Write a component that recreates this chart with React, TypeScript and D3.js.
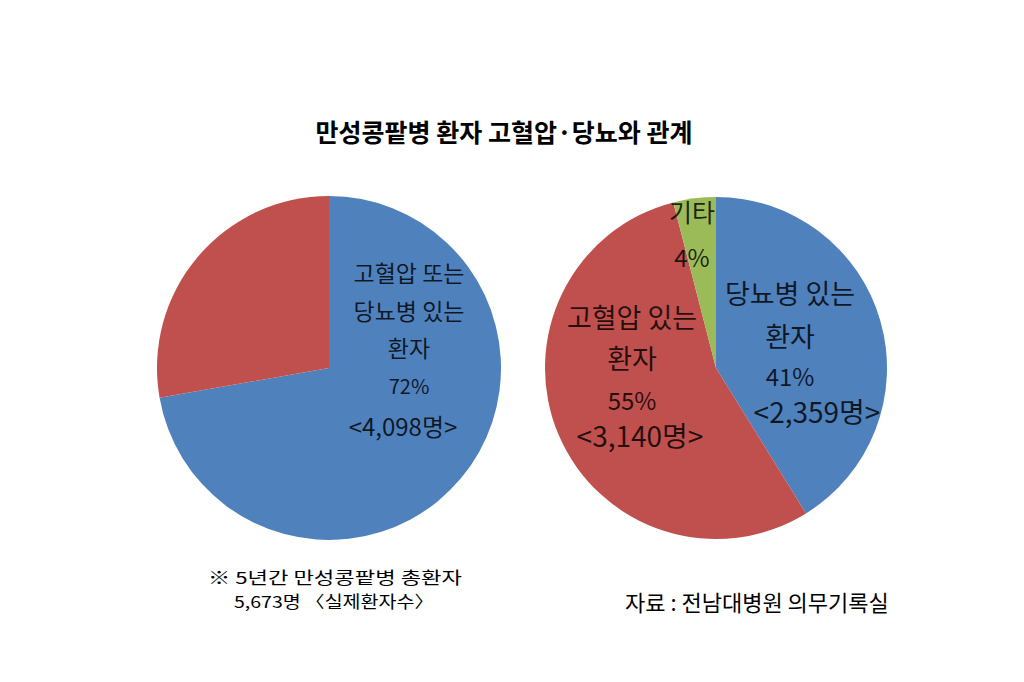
import React from 'react'
import * as d3 from 'd3'

// left pie: patients with hypertension or diabetes vs the rest
const leftNames = [['고혈압 또는', '당뇨병 있는', '환자'], []]
const leftValues = [4098, 1575]
const leftPercents = ['72%', '']
const leftCounts = ['<4,098명>', '']

// right pie: diabetes / hypertension / other
const rightNames = [['당뇨병 있는', '환자'], ['고혈압 있는', '환자'], ['기타']]
const rightValues = [2359, 3140, 230]
const rightPercents = ['41%', '55%', '4%']
const rightCounts = ['<2,359명>', '<3,140명>', '']

const colors = ['#4F81BD', '#C0504D', '#9BBB59']
const FONT = "'Noto Sans CJK KR', 'Noto Sans', sans-serif"

// label layout per slice: offsets from pie center, line positions and sizes
type LabelLayout = { x: number; ys: number[]; sizes: number[]; countDx: number }

const leftLayout: LabelLayout[] = [
  { x: 80, ys: [-94, -56, -19, 19, 59], sizes: [23, 23, 23, 20, 24], countDx: -6 },
]
const rightLayout: LabelLayout[] = [
  { x: 74, ys: [-74, -31, 9, 45], sizes: [27, 27, 24, 28], countDx: 27 },
  { x: -84, ys: [-50, -9, 33, 69], sizes: [27, 27, 24, 28], countDx: 8 },
  { x: -24, ys: [-155, -110], sizes: [25, 24], countDx: 0 },
]

const Pie: React.FC<{
  cx: number
  cy: number
  r: number
  values: number[]
  names: string[][]
  percents: string[]
  counts: string[]
  layout: LabelLayout[]
}> = ({ cx, cy, r, values, names, percents, counts, layout }) => {
  const pie = d3.pie<number>().sort(null).value(d => d)
  const arc = d3.arc<d3.PieArcDatum<number>>().innerRadius(0).outerRadius(r)
  const arcs = pie(values)
  return (
    <g transform={`translate(${cx},${cy})`}>
      {arcs.map((a, i) => (
        <path key={i} d={arc(a) || ''} fill={colors[i]} />
      ))}
      {layout.map((lay, i) => {
        const lines = [...names[i], percents[i], counts[i]].filter(s => s)
        return (
          <g key={'l' + i} fontFamily={FONT} textAnchor="middle" fill="#000" fillOpacity={0.82}>
            {lines.map((s, j) => (
              <text
                key={j}
                x={lay.x + (s === counts[i] ? lay.countDx : 0)}
                y={lay.ys[j]}
                dy="0.36em"
                fontSize={lay.sizes[j]}
              >
                {s}
              </text>
            ))}
          </g>
        )
      })}
    </g>
  )
}

const App: React.FC = () => {
  return (
    <svg
      width={1024}
      height={682}
      style={{ position: 'absolute', left: 0, top: 0, background: '#fff' }}
    >
      <text
        x={504}
        y={133}
        dy="0.36em"
        textAnchor="middle"
        fontFamily={FONT}
        fontWeight="bold"
        fontSize={25}
        fill="#000"
      >
        만성콩팥병 환자 고혈압·당뇨와 관계
      </text>
      <Pie
        cx={329}
        cy={368}
        r={172}
        values={leftValues}
        names={leftNames}
        percents={leftPercents}
        counts={leftCounts}
        layout={leftLayout}
      />
      <Pie
        cx={716}
        cy={368}
        r={171}
        values={rightValues}
        names={rightNames}
        percents={rightPercents}
        counts={rightCounts}
        layout={rightLayout}
      />
      <g fontFamily={FONT} fontSize={16.5} fill="#000">
        <text x={208} y={578} dy="0.36em" textLength={254} lengthAdjust="spacingAndGlyphs">
          ※ 5년간 만성콩팥병 총환자
        </text>
        <text x={234} y={602} dy="0.36em" textLength={200} lengthAdjust="spacingAndGlyphs">
          5,673명 〈실제환자수〉
        </text>
        <text x={625} y={603} dy="0.36em" fontSize={22}>
          자료 : 전남대병원 의무기록실
        </text>
      </g>
    </svg>
  )
}

export default App
